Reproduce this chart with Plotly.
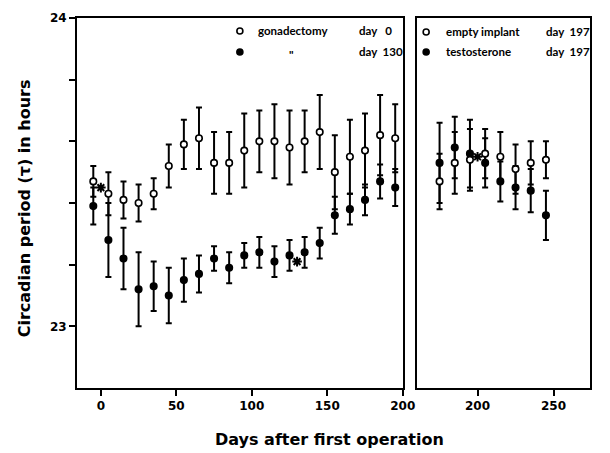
import plotly.graph_objects as go

# ---- data ----
days_left = [-5, 5, 15, 25, 35, 45, 55, 65, 75, 85, 95, 105, 115, 125, 135, 145, 155, 165, 175, 185, 195]
gonad_day0 = [23.47, 23.43, 23.41, 23.40, 23.43, 23.52, 23.59, 23.61, 23.53, 23.53, 23.57,
              23.60, 23.60, 23.58, 23.60, 23.63, 23.50, 23.55, 23.57, 23.62, 23.61]
gonad_day0_err = [0.05, 0.07, 0.06, 0.06, 0.05, 0.07, 0.08, 0.10, 0.10, 0.10, 0.12,
                  0.10, 0.12, 0.12, 0.10, 0.12, 0.12, 0.12, 0.12, 0.13, 0.11]
gonad_day130 = [23.39, 23.28, 23.22, 23.12, 23.13, 23.10, 23.15, 23.17, 23.22, 23.19, 23.23,
                23.24, 23.21, 23.23, 23.24, 23.27, 23.36, 23.38, 23.41, 23.47, 23.45]
gonad_day130_err = [0.06, 0.12, 0.10, 0.12, 0.08, 0.09, 0.07, 0.06, 0.04, 0.05, 0.04,
                    0.05, 0.05, 0.05, 0.05, 0.05, 0.06, 0.05, 0.05, 0.055, 0.06]

days_right = [175, 185, 195, 205, 215, 225, 235, 245]
empty_implant = [23.47, 23.53, 23.54, 23.56, 23.55, 23.51, 23.53, 23.54]
empty_implant_err = [0.09, 0.10, 0.10, 0.08, 0.08, 0.08, 0.07, 0.06]
testosterone = [23.53, 23.58, 23.56, 23.53, 23.47, 23.45, 23.44, 23.36]
testosterone_err = [0.13, 0.10, 0.11, 0.08, 0.065, 0.07, 0.07, 0.08]

star_days_left = [0, 130]
star_vals_left = [23.45, 23.21]
star_days_right = [200]
star_vals_right = [23.55]

y_tickvals = [23.0, 23.2, 23.4, 23.6, 23.8, 24.0]
y_ticktext = ["23", "", "", "", "", "24"]
x_left_ticks = [0, 50, 100, 150, 200]
x_right_ticks = [200, 250]

FONT = "Lato"
TFONT = "DejaVu Sans"
W, H = 610, 453
ML, MR, MT, MB = 77, 7, 18, 65
PW = W - ML - MR
PH = H - MT - MB


def px(x):
    return (x - ML) / PW


def py(y):
    return (H - MB - y) / PH


fig = go.Figure()

err_style = dict(type="data", symmetric=True, color="black", thickness=2, width=3)


def add_series(x, y, err, filled, xa, ya):
    fig.add_trace(go.Scatter(
        x=x, y=y, mode="markers", xaxis=xa, yaxis=ya,
        error_y=dict(array=err, **err_style),
        marker=dict(symbol="circle", size=6.5,
                    color="black" if filled else "white",
                    line=dict(color="black", width=1.6)),
        showlegend=False, hoverinfo="skip"))


add_series(days_left, gonad_day130, gonad_day130_err, True, "x", "y")
add_series(days_left, gonad_day0, gonad_day0_err, False, "x", "y")
add_series(days_right, testosterone, testosterone_err, True, "x2", "y2")
add_series(days_right, empty_implant, empty_implant_err, False, "x2", "y2")

star_marker = dict(symbol="asterisk-open", size=8, color="black", line=dict(color="black", width=2))
fig.add_trace(go.Scatter(x=star_days_left, y=star_vals_left, mode="markers", xaxis="x", yaxis="y",
                         marker=star_marker, showlegend=False, hoverinfo="skip"))
fig.add_trace(go.Scatter(x=star_days_right, y=star_vals_right, mode="markers", xaxis="x2", yaxis="y2",
                         marker=star_marker, showlegend=False, hoverinfo="skip"))

axis_common = dict(showline=True, linecolor="black", linewidth=2, mirror=True,
                   showgrid=False, zeroline=False,
                   tickfont=dict(family=TFONT, size=12, color="black", weight="bold"))

fig.update_layout(
    width=W, height=H,
    margin=dict(l=ML, r=MR, t=MT, b=MB),
    paper_bgcolor="white", plot_bgcolor="white",
    xaxis=dict(domain=[0, 334 / PW], range=[-15.8, 200], tickvals=x_left_ticks,
               ticks="outside", ticklen=6, tickwidth=1.5, tickcolor="black", **axis_common),
    xaxis2=dict(domain=[(426 - ML) / PW, 1], range=[160.4, 274], tickvals=x_right_ticks,
                ticks="outside", ticklen=6, tickwidth=1.5, tickcolor="black", **axis_common),
    yaxis=dict(range=[22.8, 24], tickvals=y_tickvals, ticktext=y_ticktext,
               ticks="outside", ticklen=6, tickwidth=1.5, tickcolor="black", anchor="x",
               **axis_common),
    yaxis2=dict(range=[22.8, 24], anchor="x2", showticklabels=False, ticks="", **axis_common),
)

ann_font = dict(family=FONT, size=11.5, color="black", weight="bold")
annotations = [
    dict(text="Days after first operation", x=px(336), y=py(440), xref="paper", yref="paper",
         showarrow=False, xanchor="center", yanchor="middle",
         font=dict(family=TFONT, size=16, color="black", weight="bold")),
    dict(text="Circadian period (\u03c4) in hours", x=px(23), y=py(208), xref="paper", yref="paper",
         showarrow=False, xanchor="center", yanchor="middle", textangle=-90,
         font=dict(family=TFONT, size=16, color="black", weight="bold")),
    dict(text="gonadectomy", x=px(262), y=py(31), xanchor="left"),
    dict(text="day   0", x=px(365), y=py(31), xanchor="left"),
    dict(text='"', x=px(297), y=py(54), xanchor="center"),
    dict(text="day  130", x=px(365), y=py(52), xanchor="left"),
    dict(text="empty implant", x=px(454), y=py(32), xanchor="left"),
    dict(text="testosterone", x=px(454), y=py(52), xanchor="left"),
    dict(text="day  197", x=px(557), y=py(32), xanchor="left"),
    dict(text="day  197", x=px(557), y=py(52), xanchor="left"),
]
for a in annotations[2:]:
    a.update(xref="paper", yref="paper", showarrow=False, yanchor="middle", font=ann_font, borderpad=0)
fig.update_layout(annotations=annotations)

# legend symbols
for (cx, cy, filled) in [(244, 31, False), (244, 52, True), (435, 32, False), (435, 52, True)]:
    fig.add_shape(type="circle", xref="paper", yref="paper", xsizemode="pixel", ysizemode="pixel",
                  xanchor=px(cx), yanchor=py(cy), x0=-3, x1=3, y0=-3, y1=3,
                  line=dict(color="black", width=1.6), fillcolor="black" if filled else "white")

fig.write_html("out.html")
